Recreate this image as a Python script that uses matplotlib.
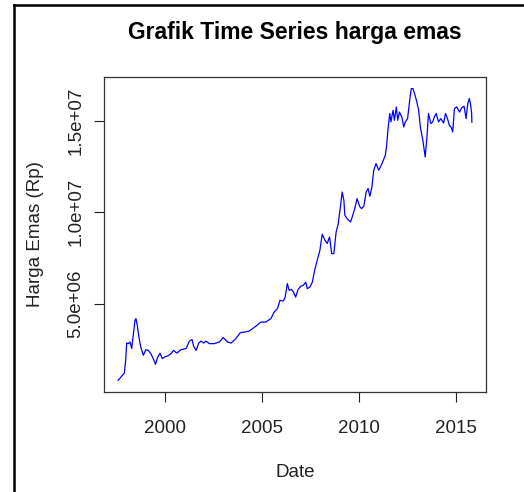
import matplotlib.pyplot as plt
from matplotlib.lines import Line2D

# harga emas bulanan (tahun desimal, harga dalam juta Rp)
tahun = [
    1997.57, 1997.75, 1997.89, 1997.96, 1998.01, 1998.10, 1998.18, 1998.27,
    1998.35, 1998.44, 1998.49, 1998.56, 1998.64, 1998.74, 1998.87, 1999.00,
    1999.13, 1999.26, 1999.38, 1999.50, 1999.60, 1999.73, 1999.85, 1999.98,
    2000.14, 2000.29, 2000.43, 2000.60, 2000.82, 2001.08, 2001.25, 2001.39,
    2001.47, 2001.60, 2001.73, 2001.85, 2001.99, 2002.11, 2002.28, 2002.54,
    2002.80, 2003.00, 2003.22, 2003.40, 2003.65, 2003.88, 2004.08, 2004.34,
    2004.51, 2004.68, 2004.94, 2005.20, 2005.37, 2005.46, 2005.63, 2005.80,
    2005.93, 2006.10, 2006.19, 2006.31, 2006.40, 2006.52, 2006.62, 2006.74,
    2006.86, 2007.00, 2007.13, 2007.26, 2007.34, 2007.48, 2007.60, 2007.72,
    2007.85, 2007.99, 2008.11, 2008.25, 2008.37, 2008.49, 2008.60, 2008.71,
    2008.83, 2008.94, 2009.06, 2009.14, 2009.23, 2009.28, 2009.40, 2009.57,
    2009.66, 2009.79, 2009.91, 2010.04, 2010.14, 2010.26, 2010.38, 2010.48,
    2010.57, 2010.68, 2010.77, 2010.89, 2011.03, 2011.20, 2011.37, 2011.44,
    2011.51, 2011.60, 2011.66, 2011.77, 2011.84, 2011.94, 2012.01, 2012.10,
    2012.23, 2012.32, 2012.40, 2012.52, 2012.63, 2012.71, 2012.80, 2012.88,
    2013.00, 2013.09, 2013.18, 2013.31, 2013.43, 2013.52, 2013.60, 2013.72,
    2013.82, 2013.90, 2014.00, 2014.12, 2014.24, 2014.38, 2014.48, 2014.58,
    2014.68, 2014.77, 2014.85, 2014.94, 2015.06, 2015.20, 2015.32, 2015.44,
    2015.54, 2015.63, 2015.71, 2015.78, 2015.83, 2015.84,
]
harga_juta = [
    0.80, 1.02, 1.20, 1.90, 2.84, 2.81, 2.90, 2.54,
    3.26, 4.09, 4.18, 3.81, 3.17, 2.62, 2.17, 2.48,
    2.44, 2.26, 1.99, 1.68, 2.04, 2.29, 1.99, 2.08,
    2.14, 2.25, 2.44, 2.29, 2.48, 2.54, 2.95, 3.03,
    2.66, 2.44, 2.84, 2.95, 2.84, 2.95, 2.81, 2.81,
    2.90, 3.14, 2.90, 2.84, 3.08, 3.41, 3.44, 3.50,
    3.63, 3.76, 3.99, 3.99, 4.12, 4.18, 4.54, 4.73,
    5.18, 5.14, 5.33, 6.10, 5.73, 5.78, 5.64, 5.36,
    5.77, 5.95, 6.00, 6.17, 5.82, 5.91, 6.18, 6.82,
    7.37, 7.92, 8.80, 8.47, 8.29, 8.65, 7.74, 7.74,
    8.92, 9.38, 10.38, 11.11, 10.66, 9.84, 9.65, 9.47,
    9.74, 10.20, 10.75, 10.33, 10.20, 10.33, 11.11, 11.30,
    10.88, 11.39, 12.30, 12.67, 12.30, 12.67, 13.12, 13.67,
    14.58, 15.41, 14.95, 15.59, 15.04, 15.77, 15.04, 15.49,
    15.19, 14.67, 14.95, 15.13, 16.13, 16.77, 16.77, 16.50,
    16.04, 15.59, 14.67, 13.94, 13.03, 14.12, 15.41, 14.86,
    14.95, 15.22, 15.41, 14.95, 15.13, 14.89, 15.41, 15.13,
    14.76, 14.67, 14.40, 15.68, 15.77, 15.49, 15.73, 15.81,
    15.13, 15.95, 16.23, 15.86, 15.41, 14.93,
]
xticks = [2000, 2005, 2010, 2015]
yticks = [5e6, 1e7, 1.5e7]
ytick_labels = ['5.0e+06', '1.0e+07', '1.5e+07']

harga = [h * 1e6 for h in harga_juta]

plt.rcParams['font.family'] = ['Liberation Sans', 'DejaVu Sans']


def rentang(v):
    # batas sumbu seperti R: 4% ditambahkan di kedua sisi
    lo, hi = min(v), max(v)
    d = (hi - lo) * 0.04
    return lo - d, hi + d


fig = plt.figure(figsize=(5.24, 4.92), dpi=100)
ax = fig.add_axes([104 / 524, 1 - 392 / 492, 382 / 524, 315 / 492])
ax.plot(tahun, harga, color='blue', linewidth=0.9)

ax.set_xlim(*rentang(tahun))
ax.set_ylim(*rentang(harga))
ax.set_xticks(xticks)
ax.set_yticks(yticks)
ax.set_yticklabels(ytick_labels, rotation=90, va='center')
ax.tick_params(direction='out', length=7.5, width=0.8, labelsize=13.5,
               colors='#222222')
ax.tick_params(axis='x', pad=13)
ax.tick_params(axis='y', pad=6.5)
for s in ax.spines.values():
    s.set_color('#333333')
    s.set_linewidth(0.9)

ax.set_title('Grafik Time Series harga emas', fontsize=16.5,
             fontweight='bold', pad=27)
ax.set_xlabel('Date', fontsize=13.5, labelpad=19, color='#222222')
ax.set_ylabel('Harga Emas (Rp)', fontsize=13.5, labelpad=17, color='#222222')

# bingkai hitam di kiri dan atas
fig.add_artist(Line2D([14 / 524, 14 / 524], [0, 1 - 5 / 492],
                      transform=fig.transFigure, color='black', lw=1.8))
fig.add_artist(Line2D([14 / 524, 1], [1 - 5 / 492, 1 - 5 / 492],
                      transform=fig.transFigure, color='black', lw=1.8))

fig.savefig('out.png', dpi=100)
